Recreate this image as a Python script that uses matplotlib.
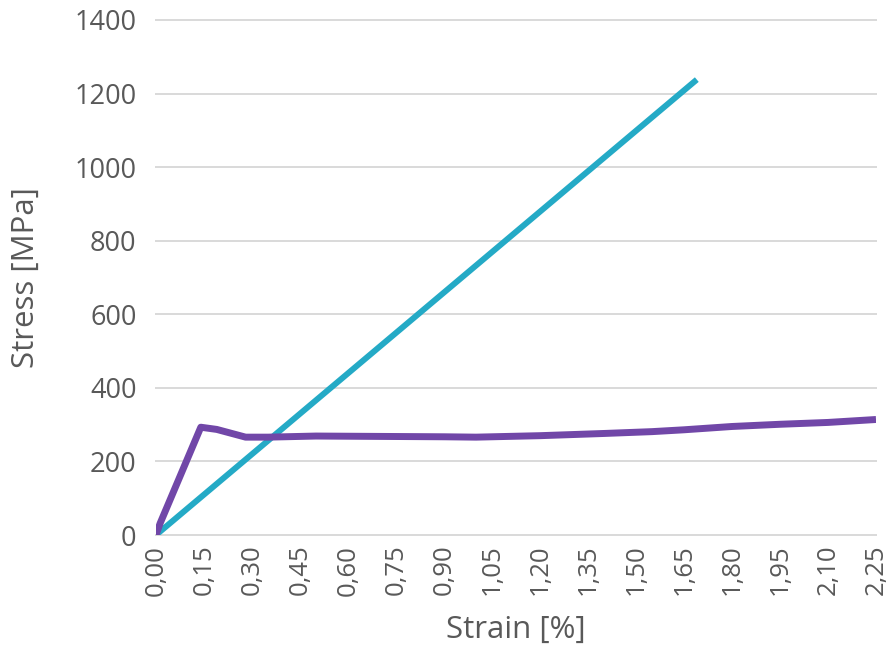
import numpy as np
import matplotlib
matplotlib.use("Agg")
import matplotlib.pyplot as plt
from matplotlib.ticker import FuncFormatter

# values
cyan_strain = [0.00, 1.69]
cyan_stress = [0, 1238]

purple_strain = [0.00, 0.013, 0.14, 0.19, 0.28, 0.35, 0.50, 0.70, 0.90,
                 1.00, 1.20, 1.40, 1.55, 1.65, 1.80, 1.95, 2.10, 2.25]
purple_stress = [0, 32, 293, 287, 266, 266, 269, 268, 267,
                 266, 270, 276, 281, 286, 295, 301, 306, 314]

x_ticks = np.round(np.arange(0, 2.26, 0.15), 2)
y_ticks = [0, 200, 400, 600, 800, 1000, 1200, 1400]

TXT = "#595959"
plt.rcParams["font.family"] = ["Open Sans", "DejaVu Sans"]

fig = plt.figure(figsize=(8.88, 6.55), dpi=100, facecolor="white")
ax = fig.add_axes([156 / 888, 1 - 535 / 655, 720 / 888, 515 / 655])

ax.plot(cyan_strain, cyan_stress, color="#24aac6", lw=4.3, zorder=3,
        solid_capstyle="butt")
ax.plot(purple_strain, purple_stress, color="#7147a8", lw=5, zorder=4,
        solid_joinstyle="round", solid_capstyle="butt")

ax.set_xlim(0, 2.25)
ax.set_ylim(0, 1400)
ax.set_xticks(x_ticks)
ax.set_yticks(y_ticks)
ax.xaxis.set_major_formatter(FuncFormatter(lambda v, p: f"{v:.2f}".replace(".", ",")))
ax.tick_params(axis="x", rotation=90, length=0, pad=7, labelsize=18.5, labelcolor=TXT)
ax.tick_params(axis="y", length=0, pad=14, labelsize=19.5, labelcolor=TXT)
ax.grid(axis="y", color="#d9d9d9", lw=1.4, clip_on=False)
ax.set_axisbelow(True)
for s in ax.spines.values():
    s.set_visible(False)

ax.set_xlabel("Strain [%]", fontsize=22.5, color=TXT)
ax.set_ylabel("Stress [MPa]", fontsize=22.5, color=TXT)
ax.xaxis.set_label_coords(0.5, -0.155)
ax.yaxis.set_label_coords(-0.16, 0.5)

fig.savefig("out.png", facecolor="white")
